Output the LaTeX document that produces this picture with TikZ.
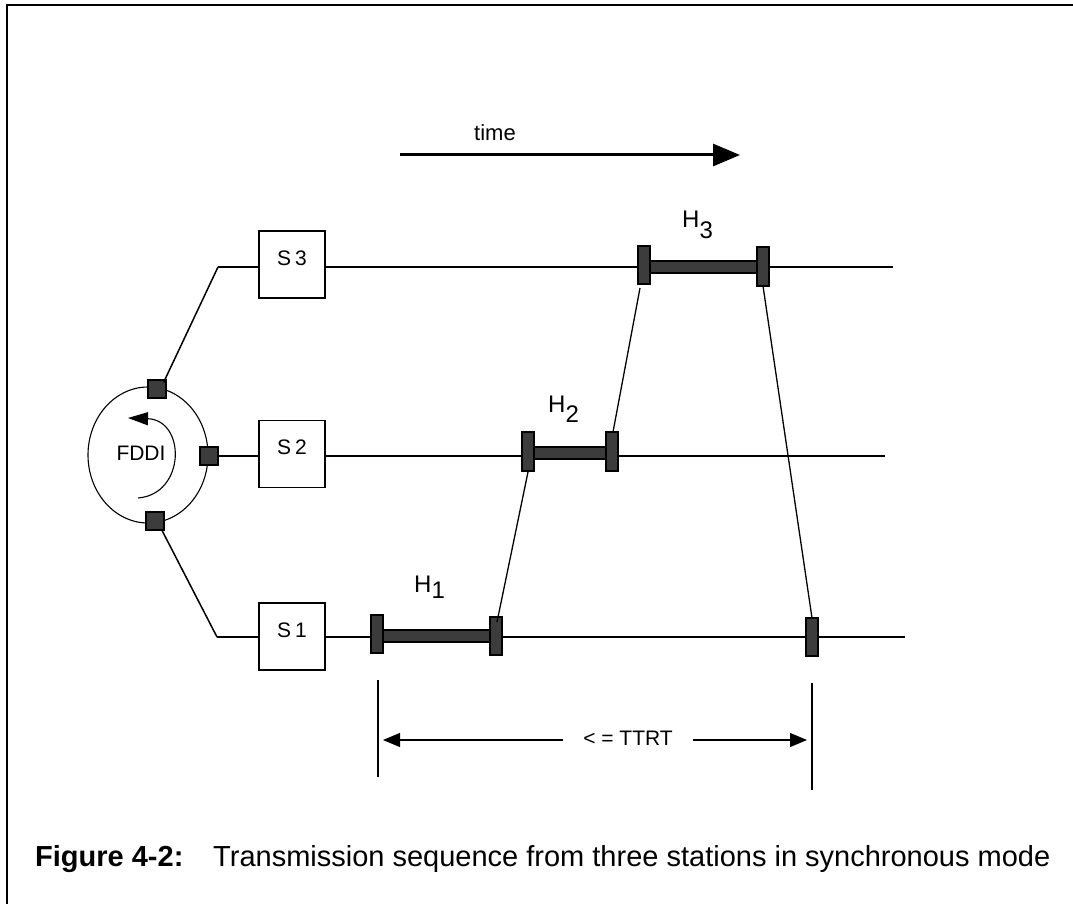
\documentclass[tikz,border=0pt]{standalone}
\usepackage{fontspec}
\setmainfont{Liberation Sans}
\usetikzlibrary{arrows.meta}
\definecolor{bargray}{HTML}{3C3C3C}
\begin{document}
\begin{tikzpicture}[x=1pt,y=-1pt,
  thinline/.style={line width=1.1pt},
  station/.style={draw,line width=1.1pt,minimum width=66pt,minimum height=67pt,inner sep=0pt,
    font=\fontsize{21}{21}\selectfont,text height=15pt,text depth=14pt},
  port/.style={draw,line width=1.2pt,fill=bargray,minimum size=18pt,inner sep=0pt},
  capbox/.style={draw,line width=1.2pt,fill=bargray},
  hlabel/.style={anchor=base west,inner sep=0pt,font=\fontsize{24}{24}\selectfont},
  tip/.style={-{Triangle[length=17pt,width=14pt]}}
]
\useasboundingbox (0,0) rectangle (1073,904);
% frame
\draw[line width=1.6pt] (7,904) -- (7,5) -- (1073,5);

% time arrow
\node[font=\fontsize{22}{22}\selectfont] (timelbl) at (495,133) {time};
\coordinate (t0) at (400,155);
\coordinate (t1) at (740,155);
\draw[line width=3pt,-{Triangle[length=27pt,width=22pt]}] (t0) -- (t1);

% FDDI ring
\draw[thinline] (148,455) ellipse [x radius=60, y radius=68];
\node[font=\fontsize{21}{21}\selectfont,inner sep=0pt] (fddi) at (141,453) {FDDI};
\coordinate (arcA) at (138,498);
\coordinate (arcB) at (128,418);
\draw[thinline,-{Triangle[length=20pt,width=13pt]}] (arcA) .. controls (186,494) and (186,420) .. (arcB);

% stations
\node[station] (s3) at (292,264.5) {S\hspace{4pt}3};
\node[station] (s2) at (292,454) {S\hspace{4pt}2};
\node[station] (s1) at (292,636.5) {S\hspace{4pt}1};

% ports
\node[port] (p3) at (157,389) {};
\node[port] (p2) at (209,456) {};
\node[port] (p1) at (155,521) {};

% ring connections
\coordinate (k3) at (218,267);
\coordinate (k1) at (217,637);
\draw[line width=1.5pt] (p3.north east) ++(-3,3) -- (k3);
\draw[thinline] (k3) -- (s3.west |- k3);
\draw[line width=1.5pt] (p1.south east) ++(-3,-1) -- (k1);
\draw[thinline] (k1) -- (s1.west |- k1);
\draw[thinline] (p2.east) -- (s2.west |- p2);

% time lines
\coordinate (e3) at (893,267);
\coordinate (e2) at (885,456);
\coordinate (e1) at (905,637);
\draw[thinline] (s3.east |- e3) -- (e3);
\draw[thinline] (s2.east |- e2) -- (e2);
\draw[thinline] (s1.east |- e1) -- (e1);

% H3 bar
\filldraw[capbox] (650,261) rectangle (757,273);
\filldraw[capbox] (638,246) rectangle (650,284);
\filldraw[capbox] (757,247) rectangle (769,286);
% H2 bar
\filldraw[capbox] (534,447) rectangle (606,459);
\filldraw[capbox] (522,432) rectangle (534,471);
\filldraw[capbox] (606,432) rectangle (618,471);
% H1 bar
\filldraw[capbox] (383,630) rectangle (490,642);
\filldraw[capbox] (371,615) rectangle (383,653);
\filldraw[capbox] (490,617) rectangle (502,655);
% S1 end marker
\filldraw[capbox] (806,618) rectangle (818,656);

% labels
\node[hlabel] (h3) at (682,227) {H\raisebox{-11pt}{3}};
\node[hlabel] (h2) at (548,412) {H\raisebox{-10pt}{2}};
\node[hlabel] (h1) at (414,592) {H\raisebox{-6pt}{1}};

% token passing connectors
\coordinate (a1) at (497,622);
\coordinate (a2) at (528,472);
\coordinate (b1) at (613,432);
\coordinate (b2) at (640,288);
\coordinate (c1) at (763,286);
\coordinate (c2) at (812,618);
\draw[line width=1.3pt] (a1) -- (a2);
\draw[line width=1.3pt] (b1) -- (b2);
\draw[line width=1.3pt] (c1) -- (c2);

% TTRT
\coordinate (v1a) at (378,680);
\coordinate (v1b) at (378,777);
\coordinate (v2a) at (812,683);
\coordinate (v2b) at (812,790);
\draw[thinline] (v1a) -- (v1b);
\draw[thinline] (v2a) -- (v2b);
\node[font=\fontsize{21}{21}\selectfont,inner xsep=20pt,inner ysep=2pt] (ttrt) at (628,738) {< = TTRT};
\coordinate (tl) at (383,740);
\coordinate (tr) at (807,740);
\draw[thinline,tip] (ttrt.west |- tl) -- (tl);
\draw[thinline,tip] (ttrt.east |- tr) -- (tr);

% caption
\node[anchor=base west,inner sep=0pt,font=\fontsize{29}{29}\selectfont\bfseries] (figlbl) at (35,866) {Figure 4-2:};
\node[anchor=base west,inner sep=0pt,font=\fontsize{29}{29}\selectfont] (figtxt) at (213,866) {Transmission sequence from three stations in synchronous mode};
\end{tikzpicture}
\end{document}
